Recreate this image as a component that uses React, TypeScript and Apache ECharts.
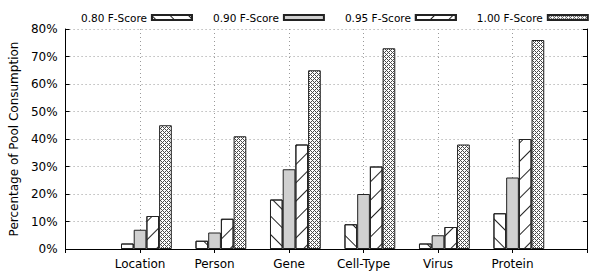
import React, { useEffect, useRef } from "react";
import * as echarts from "echarts";

const categories = ["Location", "Person", "Gene", "Cell-Type", "Virus", "Protein"];
const seriesNames = ["0.80 F-Score", "0.90 F-Score", "0.95 F-Score", "1.00 F-Score"];
const f080 = [2, 3, 18, 9, 2, 13];
const f090 = [7, 6, 29, 20, 5, 26];
const f095 = [12, 11, 38, 30, 8, 40];
const f100 = [45, 41, 65, 73, 38, 76];
const yTicks = [0, 10, 20, 30, 40, 50, 60, 70, 80];

const FONT = "DejaVu Sans";

function meshPattern() {
  const c = document.createElement("canvas");
  c.width = 4;
  c.height = 4;
  const ctx = c.getContext("2d")!;
  ctx.fillStyle = "#ffffff";
  ctx.fillRect(0, 0, 4, 4);
  ctx.fillStyle = "#4a4a4a";
  for (let x = 0; x < 4; x++) {
    for (let y = 0; y < 4; y++) {
      if ((x + y) % 4 === 0 || (x - y + 4) % 4 === 0) ctx.fillRect(x, y, 1, 1);
    }
  }
  return { image: c.toDataURL(), repeat: "repeat", imageWidth: 4, imageHeight: 4 };
}

export default function App() {
  const ref = useRef<HTMLDivElement>(null);
  useEffect(() => {
    if (!ref.current) return;
    const chart = echarts.init(ref.current, null, { renderer: "svg" });
    const axisCats = ["", ...categories, ""];
    const pad = (a: number[]) => ["-", ...a, "-"];
    const border = { borderColor: "#222", borderWidth: 1 };
    const stripe = (rot: number) => ({
      symbol: "rect",
      symbolSize: 1,
      color: "#222",
      dashArrayX: [1, 0],
      dashArrayY: [1, 12],
      rotation: rot,
    });
    const decals: any[] = [stripe(Math.PI / 4), undefined, stripe(-Math.PI / 4), undefined];
    const fills: any[] = ["#ffffff", "#d0d0d0", "#ffffff", meshPattern()];
    const values = [f080, f090, f095, f100];
    const barSeries = values.map((v, i) => ({
      type: "bar",
      name: seriesNames[i],
      data: pad(v),
      barWidth: 12.7,
      barGap: "0%",
      itemStyle: {
        color: fills[i],
        ...border,
        ...(decals[i] ? { decal: decals[i] } : {}),
      },
    }));
    const gridLine = { lineStyle: { type: [1, 3], color: "#999", width: 1 } };
    chart.setOption({
      animation: false,
      textStyle: { fontFamily: FONT },
      legend: {
        data: seriesNames,
        top: 7,
        left: 76,
        align: "right",
        itemWidth: 40,
        itemHeight: 5,
        itemGap: 20,
        icon: "rect",
        textStyle: { fontFamily: FONT, fontSize: 10.5, color: "#000" },
      },
      grid: { left: 57, right: 23, top: 29, bottom: 29, containLabel: false },
      xAxis: [
        {
          type: "category",
          data: axisCats,
          boundaryGap: false,
          position: "bottom",
          axisLine: { lineStyle: { color: "#555", width: 1 } },
          axisTick: { inside: true, length: 4, lineStyle: { color: "#000" } },
          axisLabel: { fontFamily: FONT, fontSize: 12, color: "#000", margin: 9, interval: 0 },
          splitLine: { show: true, ...gridLine },
        },
        {
          type: "category",
          data: axisCats,
          boundaryGap: false,
          position: "top",
          axisLine: { lineStyle: { color: "#000", width: 1 } },
          axisTick: { inside: true, length: 4, lineStyle: { color: "#000" } },
          axisLabel: { show: false },
          splitLine: { show: false },
        },
      ],
      yAxis: [
        {
          type: "value",
          min: yTicks[0],
          max: yTicks[yTicks.length - 1],
          interval: 10,
          name: "Percentage of Pool Consumption",
          nameLocation: "middle",
          nameGap: 38,
          nameTextStyle: { fontFamily: FONT, fontSize: 12, color: "#000" },
          axisLine: { show: true, lineStyle: { color: "#000", width: 1 } },
          axisTick: { show: true, inside: true, length: 4, lineStyle: { color: "#000" } },
          axisLabel: { fontFamily: FONT, fontSize: 12, color: "#000", margin: 8, formatter: "{value}%" },
          splitLine: { show: true, ...gridLine },
        },
        {
          type: "value",
          min: yTicks[0],
          max: yTicks[yTicks.length - 1],
          interval: 10,
          position: "right",
          axisLine: { show: true, lineStyle: { color: "#000", width: 1 } },
          axisTick: { show: true, inside: true, length: 4, lineStyle: { color: "#000" } },
          axisLabel: { show: false },
          splitLine: { show: false },
        },
      ],
      series: [
        {
          type: "bar",
          name: "spacer",
          data: axisCats.map(() => "-"),
          barWidth: 12.7,
          barGap: "0%",
          itemStyle: { color: "transparent" },
        },
        ...barSeries,
      ],
    });
    return () => chart.dispose();
  }, []);
  return <div ref={ref} style={{ width: 610, height: 278, position: "absolute", left: 0, top: 0 }} />;
}
